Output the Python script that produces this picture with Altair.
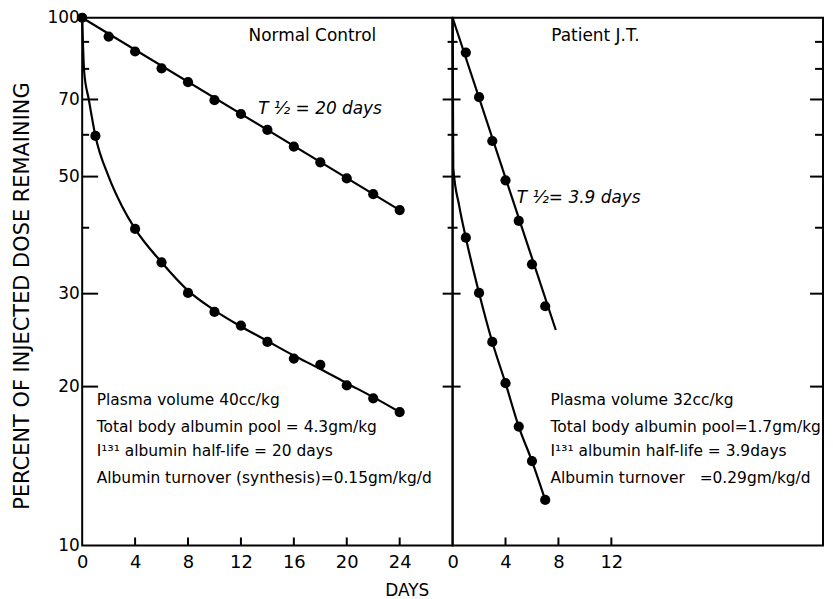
import altair as alt
import pandas as pd

# ---------------- data ----------------
# Normal control
nc_pt_upper_days = [0, 2, 4, 6, 8, 10, 12, 14, 16, 18, 20, 22, 24]
nc_pt_upper_pct = [100, 92.1, 86.3, 80.2, 75.5, 69.8, 65.7, 61.3, 57.0, 53.2, 49.6, 46.3, 43.2]
nc_pt_lower_days = [1, 4, 6, 8, 10, 12, 14, 16, 18, 20, 22, 24]
nc_pt_lower_pct = [59.7, 39.8, 34.4, 30.1, 27.7, 26.1, 24.3, 22.6, 22.0, 20.1, 19.0, 17.9]
nc_fit_upper_days = [0, 24]
nc_fit_upper_pct = [100, 43.2]
nc_fit_lower_days = [0, 0.15, 0.5, 1, 2, 3, 4, 6, 8, 10, 12, 14, 16, 18, 20, 22, 24]
nc_fit_lower_pct = [100, 79, 70, 59.7, 50.0, 44, 39.8, 34.4, 30.4, 27.9, 26.0, 24.4, 22.9, 21.6, 20.3, 19.1, 17.9]

# Patient J.T.
jt_pt_upper_days = [1, 2, 3, 4, 5, 6, 7]
jt_pt_upper_pct = [85.9, 70.7, 58.4, 49.2, 41.2, 34.1, 28.4]
jt_pt_lower_days = [1, 2, 3, 4, 5, 6, 7]
jt_pt_lower_pct = [38.3, 30.1, 24.3, 20.3, 16.8, 14.45, 12.2]
jt_fit_upper_days = [0, 7.8]
jt_fit_upper_pct = [100, 25.6]
jt_fit_lower_days = [0, 0.05, 0.5, 1, 2, 3, 4, 5, 6, 7]
jt_fit_lower_pct = [100, 52, 44, 38.3, 30.1, 24.3, 20.3, 16.8, 14.45, 12.2]

# ticks
y_major = [10, 20, 30, 50, 70, 100]
y_major_inner = [20, 30, 50, 70]
y_minor = [40, 60, 80, 90]
nc_x_ticks = [0, 4, 8, 12, 16, 20, 24]
jt_x_ticks = [0, 4, 8, 12]

nc_notes = [
    "Plasma volume 40cc/kg",
    "Total body albumin pool = 4.3gm/kg",
    "I\u00b9\u00b3\u00b9 albumin  half-life = 20 days",
    "Albumin turnover (synthesis)=0.15gm/kg/d",
]
jt_notes = [
    "Plasma volume 32cc/kg",
    "Total body albumin pool=1.7gm/kg",
    "I\u00b9\u00b3\u00b9 albumin half-life = 3.9days",
    "Albumin turnover\u00a0\u00a0\u00a0=0.29gm/kg/d",
]
notes_pct = [18.9, 16.8, 15.1, 13.4]

# ---------------- chart ----------------
W, H = 372, 530
FONT = "DejaVu Sans"
xs = alt.Scale(domain=[0, 28], nice=False, zero=False)
ys = alt.Scale(type="log", domain=[10, 100], nice=False)


def series_df(days, pct, name):
    return pd.DataFrame({"day": days, "pct": pct, "s": name})


def panel(fit_u, fit_l, pt_u, pt_l, xticks, notes, notes_day, title_text, title_day,
          half_text, half_day, half_pct, left):
    fits = pd.concat([series_df(*fit_u, "u"), series_df(*fit_l, "l")])
    pts = pd.concat([series_df(*pt_u, "u"), series_df(*pt_l, "l")])

    if left:
        yaxis = alt.Axis(values=y_major, ticks=False, domain=False,
                         grid=False, labelFontSize=17, labelPadding=3, labelFont=FONT,
                         labelColor="black", title="PERCENT OF INJECTED DOSE REMAINING",
                         titleFontSize=21, titleFont=FONT, titleFontWeight="normal",
                         titleColor="black", titleX=-59.5, titleY=279, titleBaseline="middle",
                         titleAngle=270, titleAlign="center")
    else:
        yaxis = None

    xaxis_kw = dict(values=xticks, ticks=False, domain=False, grid=False, labelFontSize=18,
                    labelPadding=8, labelFont=FONT, labelColor="black", labelFlush=False)
    if left:
        xaxis = alt.Axis(title="DAYS", titleFontSize=17, titleFont=FONT, titleFontWeight="normal",
                         titleColor="black", titleX=326, titleY=45, titleBaseline="middle",
                         titleAlign="center", **xaxis_kw)
    else:
        xaxis = alt.Axis(title=None, **xaxis_kw)

    X = alt.X("day:Q", scale=xs, axis=xaxis)
    Y = alt.Y("pct:Q", scale=ys, axis=yaxis)

    base_lines = alt.Chart(fits).mark_line(color="black", strokeWidth=2.2,
                                           interpolate="monotone").encode(
        x=X, y=Y, detail="s:N")
    points = alt.Chart(pts).mark_circle(color="black", size=105, opacity=1).encode(x=X, y=Y)

    layers = [base_lines, points]

    maj = pd.DataFrame({"pct": y_major_inner})
    mnr = pd.DataFrame({"pct": y_minor})
    rule = dict(color="black", strokeWidth=2)
    if left:
        layers.append(alt.Chart(maj).mark_rule(**rule).encode(
            y=Y, x=alt.value(0), x2=alt.value(16)))
        layers.append(alt.Chart(mnr).mark_rule(**rule).encode(
            y=Y, x=alt.value(0), x2=alt.value(7)))
    else:
        layers.append(alt.Chart(maj).mark_rule(**rule).encode(
            y=Y, x=alt.value(-10), x2=alt.value(8)))
        layers.append(alt.Chart(mnr).mark_rule(**rule).encode(
            y=Y, x=alt.value(-5), x2=alt.value(5)))
        layers.append(alt.Chart(maj).mark_rule(**rule).encode(
            y=Y, x=alt.value(W - 13), x2=alt.value(W)))
        layers.append(alt.Chart(mnr).mark_rule(**rule).encode(
            y=Y, x=alt.value(W - 8), x2=alt.value(W)))

    xt = pd.DataFrame({"day": [d for d in xticks if d > 0]})
    layers.append(alt.Chart(xt).mark_rule(**rule).encode(
        x=X, y=alt.value(H - 8), y2=alt.value(H)))

    nd = pd.DataFrame({"t": notes, "day": [notes_day] * 4, "pct": notes_pct})
    layers.append(alt.Chart(nd).mark_text(align="left", baseline="middle", fontSize=15.5,
                                          font=FONT, color="black").encode(
        x=X, y=Y, text="t:N"))

    td = pd.DataFrame({"t": [title_text], "day": [title_day], "pct": [92.3]})
    layers.append(alt.Chart(td).mark_text(align="center", baseline="middle", fontSize=17,
                                          font=FONT, color="black").encode(
        x=X, y=Y, text="t:N"))

    hd = pd.DataFrame({"t": [half_text], "day": [half_day], "pct": [half_pct]})
    layers.append(alt.Chart(hd).mark_text(align="left", baseline="middle", fontSize=17,
                                          font=FONT, fontStyle="italic", color="black").encode(
        x=X, y=Y, text="t:N"))

    return alt.layer(*layers).properties(width=W, height=H)


left = panel((nc_fit_upper_days, nc_fit_upper_pct), (nc_fit_lower_days, nc_fit_lower_pct),
             (nc_pt_upper_days, nc_pt_upper_pct), (nc_pt_lower_days, nc_pt_lower_pct),
             nc_x_ticks, nc_notes, 1.1, "Normal Control", 17.4,
             "T \u00bd = 20 days", 13.3, 67.2, True)
right = panel((jt_fit_upper_days, jt_fit_upper_pct), (jt_fit_lower_days, jt_fit_lower_pct),
              (jt_pt_upper_days, jt_pt_upper_pct), (jt_pt_lower_days, jt_pt_lower_pct),
              jt_x_ticks, jt_notes, 7.4, "Patient J.T.", 10.8,
              "T \u00bd= 3.9 days", 4.85, 45.5, False)

chart = alt.hconcat(left, right, spacing=0, bounds="flush").properties(
    padding={"left": 2.5, "top": -1.5, "right": 0, "bottom": 0},
    background="white",
).configure_view(stroke="black", strokeWidth=2)

chart.save("out.html", embed_options={"renderer": "svg", "actions": False})
